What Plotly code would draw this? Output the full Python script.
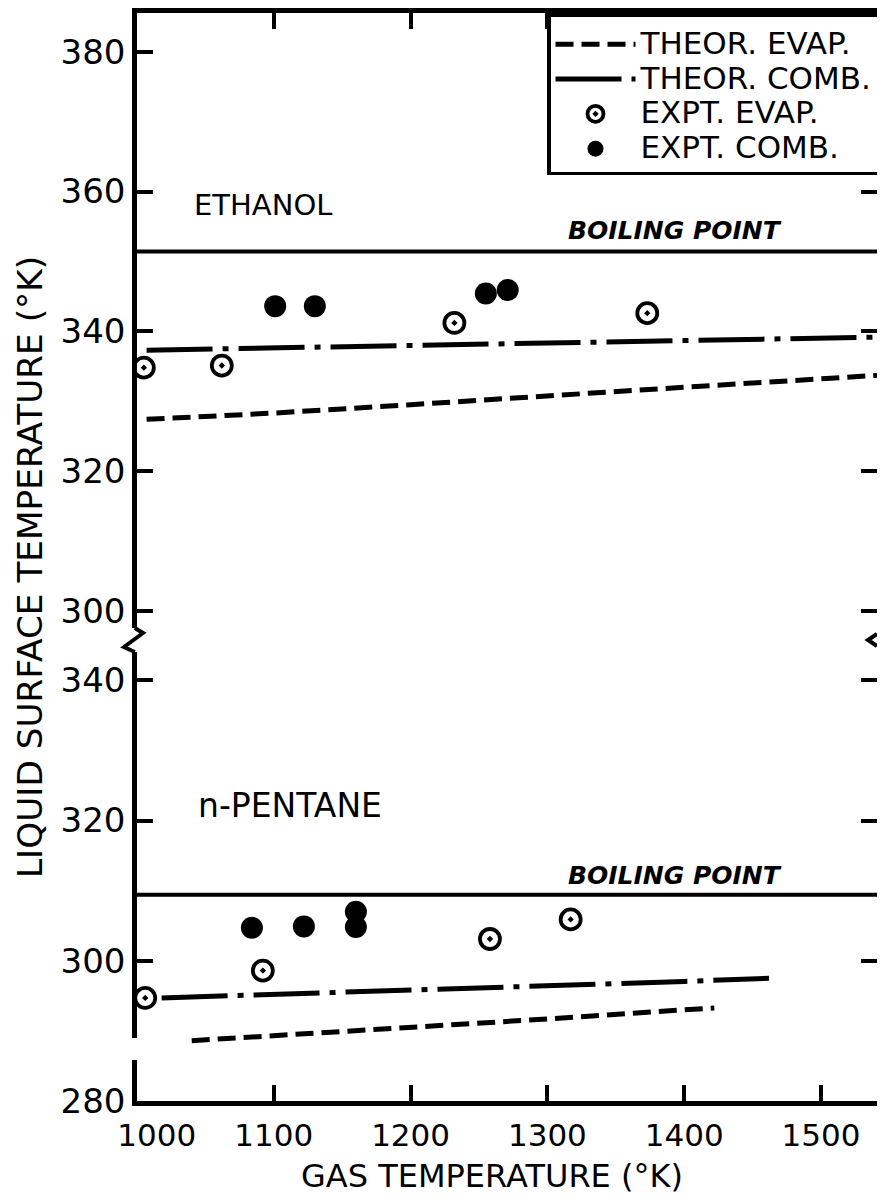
import plotly.graph_objects as go

FONT = "DejaVu Sans"

# ---------------- data ----------------
# Ethanol (upper panel)
eth_theory_x = [1007, 1100, 1200, 1300, 1400, 1500, 1550]
eth_theor_evap = [327.4, 328.3, 329.5, 330.8, 332.0, 333.2, 333.8]
eth_theor_comb = [337.3, 337.6, 338.0, 338.35, 338.7, 339.0, 339.2]
eth_expt_evap_x = [1005, 1062, 1232, 1373]
eth_expt_evap_y = [334.8, 335.1, 341.2, 342.6]
eth_expt_comb_x = [1101, 1130, 1255, 1271]
eth_expt_comb_y = [343.6, 343.6, 345.4, 345.9]
eth_boiling_point = 351.4

# n-Pentane (lower panel)
pen_evap_x = [1040, 1100, 1200, 1300, 1400, 1422]
pen_theor_evap = [288.6, 289.3, 290.5, 291.7, 293.0, 293.25]
pen_comb_x = [1018, 1100, 1200, 1300, 1400, 1462]
pen_theor_comb = [294.7, 295.2, 295.75, 296.3, 297.05, 297.5]
pen_expt_evap_x = [1006, 1092, 1258, 1317]
pen_expt_evap_y = [294.7, 298.6, 303.1, 305.9]
pen_expt_comb_x = [1084, 1122, 1160, 1160]
pen_expt_comb_y = [304.7, 304.9, 307.0, 304.8]
pen_boiling_point = 309.4

x_ticks = [1000, 1100, 1200, 1300, 1400, 1500]
x_tick_labels = ["1000", "1100", "1200", "1300", "1400", "1500"]
top_y_ticks = [300, 320, 340, 360, 380]
bottom_y_ticks = [280, 300, 320, 340]

legend_names = ["THEOR. EVAP.", "THEOR. COMB.", "EXPT. EVAP.", "EXPT. COMB."]

# ---------------- layout geometry ----------------
BODY = 8                      # default page margin around the figure
W, H = 885 - 2 * BODY, 1204 - 2 * BODY
ML, MR, MT, MB = 129, 0, 5, 95
PW = W - ML - MR
PH = H - MT - MB
X_PER_PX = 1 / 1.368
X_RANGE = [1000, 1000 + PW * X_PER_PX]


def py2paper(py):  # page pixel -> paper fraction
    return (H - MB - (py - BODY)) / PH


def px2paper(px):
    return (px - BODY - ML) / PW


top_domain = [py2paper(628), 1.0]
bot_domain = [0.0, py2paper(652)]
top_range = [297.55, 385.54]
bot_range = [280.0, 344.03]

DASH_EVAP = "18px,8px"
DASH_COMB = "66px,10px,6px,10px"
LW = 5


def span(t):
    return "<span style='font-size:31px'>" + t + "</span>"


fig = go.Figure()

# ---- upper panel (x2, y)
fig.add_trace(go.Scatter(x=eth_theory_x, y=eth_theor_evap, mode="lines", xaxis="x2", yaxis="y",
                         line=dict(color="black", width=LW, dash=DASH_EVAP), name=span(legend_names[0])))
fig.add_trace(go.Scatter(x=eth_theory_x, y=eth_theor_comb, mode="lines", xaxis="x2", yaxis="y",
                         line=dict(color="black", width=LW, dash=DASH_COMB), name=span(legend_names[1])))
fig.add_trace(go.Scatter(x=eth_expt_evap_x, y=eth_expt_evap_y, mode="markers", xaxis="x2", yaxis="y",
                         marker=dict(symbol="circle-dot", size=20, color="white",
                                     line=dict(color="black", width=3.8)),
                         name=span(legend_names[2])))
fig.add_trace(go.Scatter(x=eth_expt_comb_x, y=eth_expt_comb_y, mode="markers", xaxis="x2", yaxis="y",
                         marker=dict(symbol="circle", size=22, color="black"),
                         name=span(legend_names[3])))

# ---- lower panel (x, y2)
fig.add_trace(go.Scatter(x=pen_evap_x, y=pen_theor_evap, mode="lines", xaxis="x", yaxis="y2",
                         line=dict(color="black", width=LW, dash=DASH_EVAP), showlegend=False))
fig.add_trace(go.Scatter(x=pen_comb_x, y=pen_theor_comb, mode="lines", xaxis="x", yaxis="y2",
                         line=dict(color="black", width=LW, dash=DASH_COMB), showlegend=False))
fig.add_trace(go.Scatter(x=pen_expt_evap_x, y=pen_expt_evap_y, mode="markers", xaxis="x", yaxis="y2",
                         marker=dict(symbol="circle-dot", size=20, color="white",
                                     line=dict(color="black", width=3.8)), showlegend=False))
fig.add_trace(go.Scatter(x=pen_expt_comb_x, y=pen_expt_comb_y, mode="markers", xaxis="x", yaxis="y2",
                         marker=dict(symbol="circle", size=22, color="black"), showlegend=False))

axis_common = dict(showgrid=False, zeroline=False, linecolor="black", linewidth=4.5,
                   ticks="inside", ticklen=16, tickwidth=3.5, tickcolor="black")

nbsp = "\u00a0"
tick_text = [(nbsp * 4 + t) if i == 0 else t for i, t in enumerate(x_tick_labels)]

fig.update_layout(
    width=W, height=H,
    margin=dict(l=ML, r=MR, t=MT, b=MB, pad=0, autoexpand=False),
    paper_bgcolor="white", plot_bgcolor="white",
    font=dict(family=FONT, color="black"),
    xaxis=dict(**axis_common, domain=[0, 1], anchor="y2", range=X_RANGE,
               tickvals=x_ticks, ticktext=tick_text, showline=True, ticklabelstandoff=3,
               tickfont=dict(family=FONT, size=31, color="black")),
    xaxis2=dict(**axis_common, domain=[0, 1], anchor="y", side="top", matches="x", range=X_RANGE,
                tickvals=x_ticks, showticklabels=False, showline=True),
    yaxis=dict(**axis_common, domain=top_domain, anchor="x2", range=top_range,
               tickvals=top_y_ticks, showline=True, mirror="ticks",
               tickfont=dict(family=FONT, size=34, color="black")),
    yaxis2=dict(**axis_common, domain=bot_domain, anchor="x", range=bot_range,
                tickvals=bottom_y_ticks, showline=True, mirror="ticks",
                tickfont=dict(family=FONT, size=34, color="black")),
    legend=dict(x=px2paper(547), y=1, xanchor="left", yanchor="top",
                bgcolor="white", bordercolor="black", borderwidth=3.5,
                font=dict(family=FONT, size=24.5, color="black"),
                title=dict(text=nbsp, font=dict(size=4)),
                itemwidth=80, tracegroupgap=0, traceorder="normal"),
    showlegend=True,
)

# boiling point lines
fig.add_shape(type="line", xref="paper", yref="y", x0=0, x1=1, y0=eth_boiling_point, y1=eth_boiling_point,
              line=dict(color="black", width=4))
fig.add_shape(type="line", xref="paper", yref="y2", x0=0, x1=1, y0=pen_boiling_point, y1=pen_boiling_point,
              line=dict(color="black", width=4))

# axis break zigzag on left axis
x_ax = px2paper(BODY + ML) - 2.25 / PW
zig = "M {:.5f},{:.5f} L {:.5f},{:.5f} L {:.5f},{:.5f} L {:.5f},{:.5f}".format(
    x_ax, py2paper(628), px2paper(143), py2paper(633), px2paper(124), py2paper(647), x_ax, py2paper(652))
fig.add_shape(type="path", xref="paper", yref="paper", path=zig, line=dict(color="black", width=4),
              layer="above")
# break mark on the right edge
rzig = "M {:.5f},{:.5f} L {:.5f},{:.5f} L {:.5f},{:.5f}".format(
    1.0, py2paper(634), px2paper(868), py2paper(640), 1.0, py2paper(646))
fig.add_shape(type="path", xref="paper", yref="paper", path=rzig, line=dict(color="black", width=4),
              layer="above")
# small gap in the lower left axis
fig.add_shape(type="rect", xref="paper", yref="paper", x0=px2paper(126), x1=px2paper(139.5),
              y0=py2paper(1060), y1=py2paper(1038), fillcolor="white", line=dict(width=0), layer="above")

# labels
fig.add_annotation(x=1092, y=358.0, xref="x2", yref="y", text="ETHANOL", showarrow=False,
                   font=dict(family=FONT, size=29, color="black"))
fig.add_annotation(x=1111.5, y=322.1, xref="x", yref="y2", text="n-PENTANE", showarrow=False,
                   font=dict(family=FONT, size=33, color="black"))
fig.add_annotation(x=1393.5, y=354.4, xref="x2", yref="y", text="<b><i>BOILING POINT</i></b>", showarrow=False,
                   font=dict(family=FONT, size=25, color="black"))
fig.add_annotation(x=1393.5, y=312.2, xref="x", yref="y2", text="<b><i>BOILING POINT</i></b>", showarrow=False,
                   font=dict(family=FONT, size=25, color="black"))
fig.add_annotation(x=px2paper(30), y=py2paper(567), xref="paper", yref="paper",
                   text="LIQUID SURFACE TEMPERATURE (°K)", textangle=-90, showarrow=False,
                   xanchor="center", yanchor="middle",
                   font=dict(family=FONT, size=34.3, color="black"))
fig.add_annotation(x=px2paper(492), y=py2paper(1176), xref="paper", yref="paper",
                   text="GAS TEMPERATURE (°K)", showarrow=False,
                   xanchor="center", yanchor="middle",
                   font=dict(family=FONT, size=32, color="black"))

fig.write_html("out.html")
